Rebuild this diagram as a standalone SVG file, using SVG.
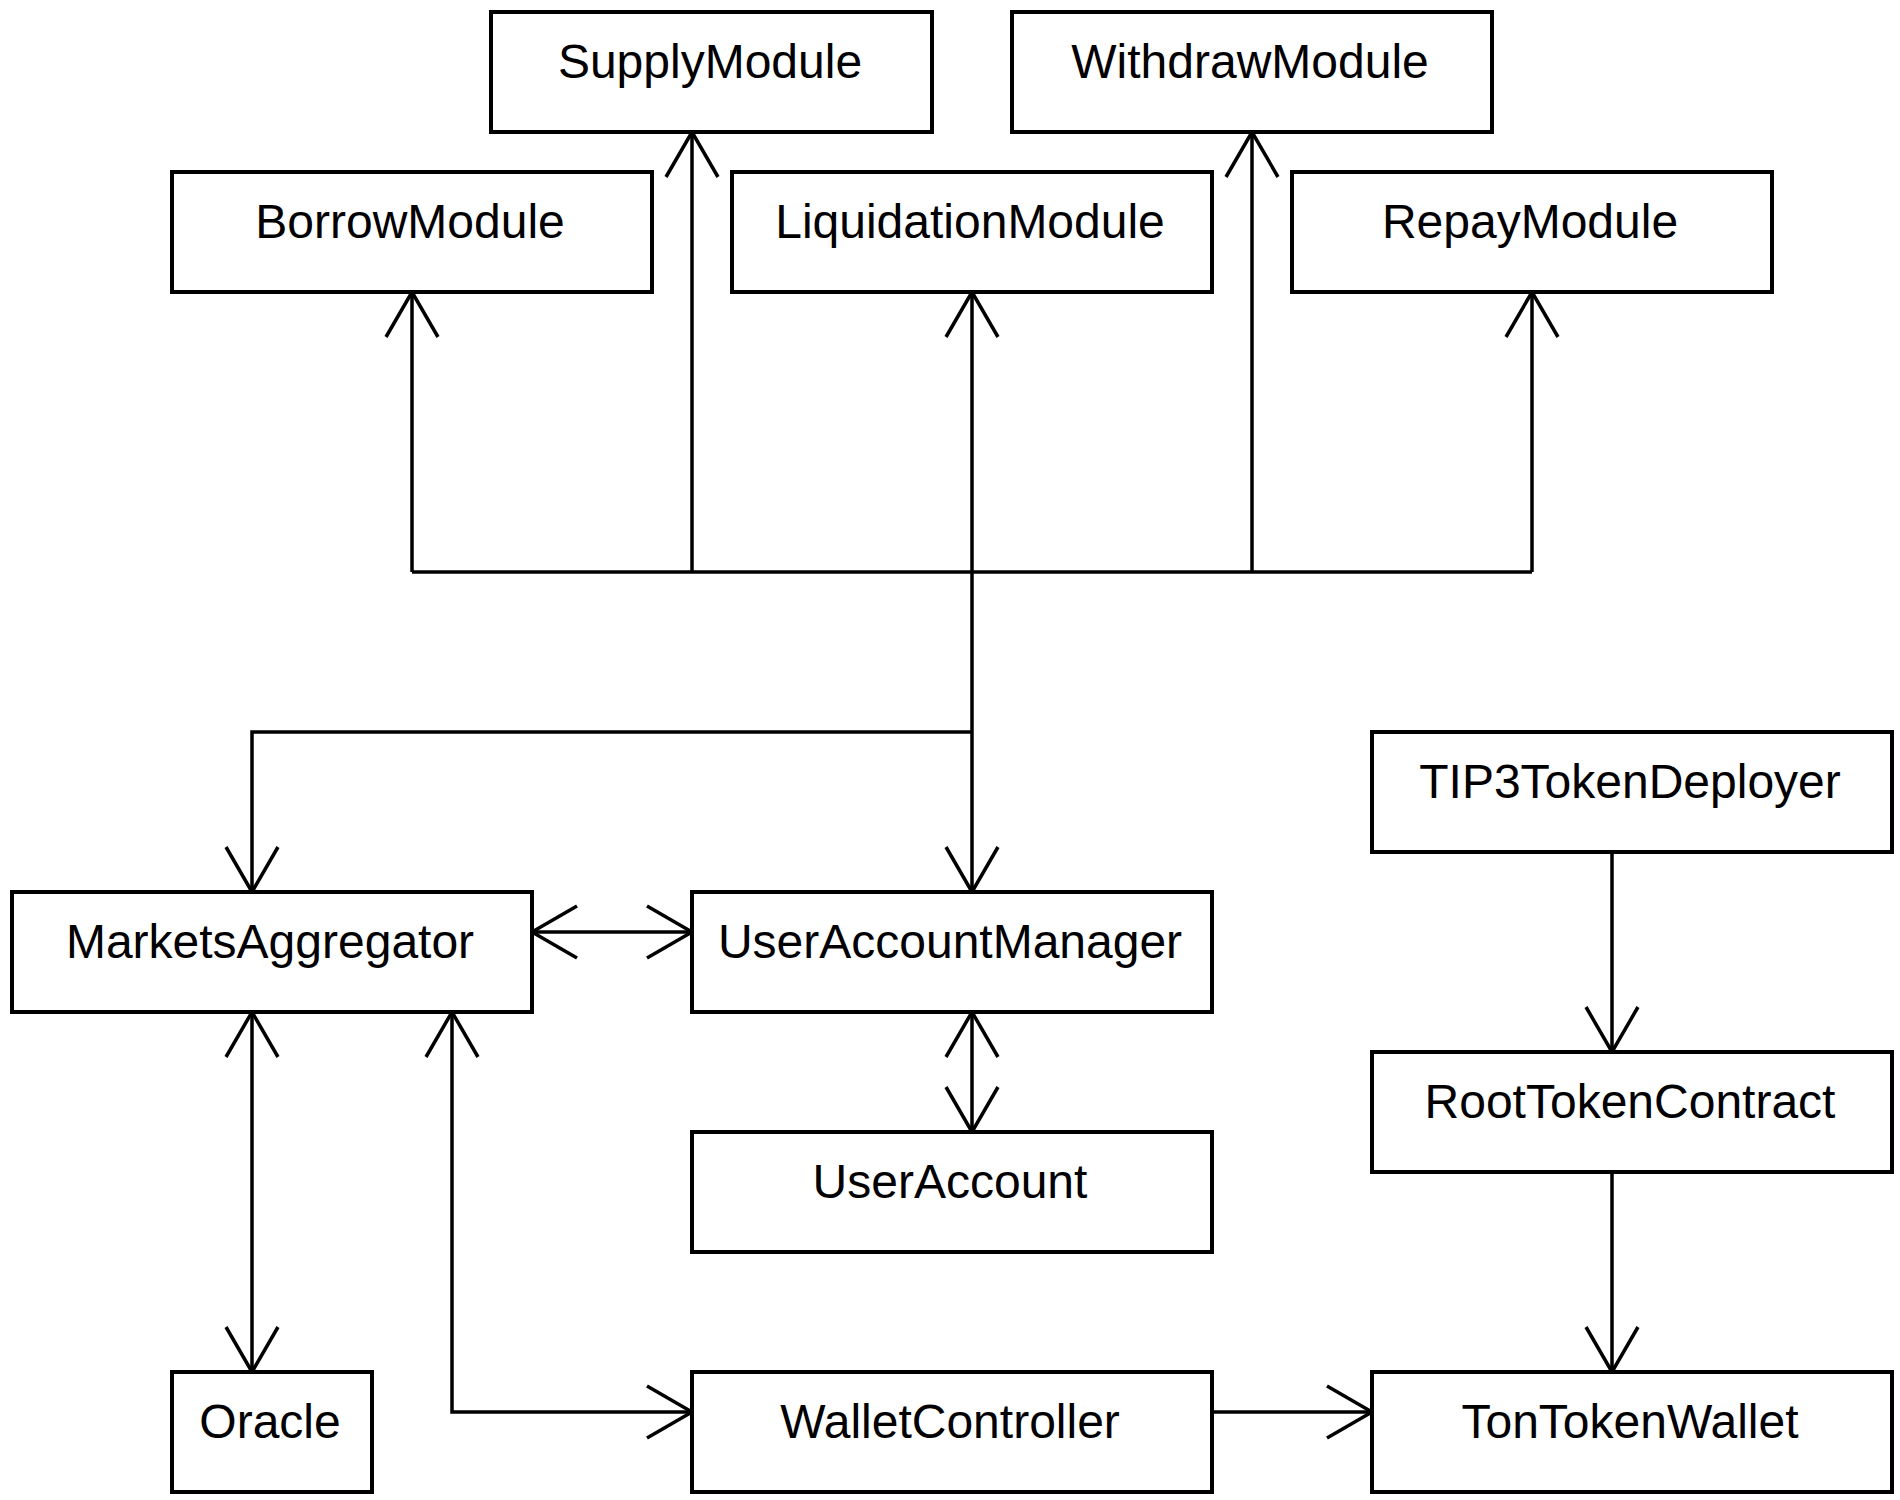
<svg xmlns="http://www.w3.org/2000/svg" width="1900" height="1500" viewBox="0 0 1900 1500">
<style>
.box{fill:#fff;stroke:#000;stroke-width:4}
.lbl{font-family:"Liberation Sans",Arial,sans-serif;font-size:48px;fill:#000;text-anchor:middle}
.con{fill:none;stroke:#000;stroke-width:3.5}
.a1{marker-end:url(#arr)}
.a2{marker-start:url(#arr);marker-end:url(#arr)}
</style>
<defs>
<marker id="arr" viewBox="0 0 50 56" refX="47" refY="28" markerWidth="50" markerHeight="56" markerUnits="userSpaceOnUse" orient="auto-start-reverse">
<path d="M2,2 L47,28 L2,54" fill="none" stroke="#000" stroke-width="3.5"/>
</marker>
</defs>
<rect width="1900" height="1500" fill="#fff"/>
<g id="connectors">
<path class="con" d="M412,572 H1532"/>
<path class="con a1" d="M412,572 V292"/>
<path class="con a1" d="M692,572 V132"/>
<path class="con a1" d="M972,572 V292"/>
<path class="con a1" d="M1252,572 V132"/>
<path class="con a1" d="M1532,572 V292"/>
<path class="con a1" d="M972,572 V892"/>
<path class="con a1" d="M972,732 H252 V892"/>
<path class="con a2" d="M532,932 H692"/>
<path class="con a2" d="M972,1012 V1132"/>
<path class="con a2" d="M252,1012 V1372"/>
<path class="con a2" d="M452,1012 V1412 H692"/>
<path class="con a1" d="M1612,852 V1052"/>
<path class="con a1" d="M1612,1172 V1372"/>
<path class="con a1" d="M1212,1412 H1372"/>
</g>
<g id="SupplyModule"><rect class="box" x="491" y="12" width="441" height="120"/><text class="lbl" x="710" y="78">SupplyModule</text></g>
<g id="WithdrawModule"><rect class="box" x="1012" y="12" width="480" height="120"/><text class="lbl" x="1250" y="78">WithdrawModule</text></g>
<g id="BorrowModule"><rect class="box" x="172" y="172" width="480" height="120"/><text class="lbl" x="410" y="238">BorrowModule</text></g>
<g id="LiquidationModule"><rect class="box" x="732" y="172" width="480" height="120"/><text class="lbl" x="970" y="238">LiquidationModule</text></g>
<g id="RepayModule"><rect class="box" x="1292" y="172" width="480" height="120"/><text class="lbl" x="1530" y="238">RepayModule</text></g>
<g id="TIP3TokenDeployer"><rect class="box" x="1372" y="732" width="520" height="120"/><text class="lbl" x="1630" y="798">TIP3TokenDeployer</text></g>
<g id="MarketsAggregator"><rect class="box" x="12" y="892" width="520" height="120"/><text class="lbl" x="270" y="958">MarketsAggregator</text></g>
<g id="UserAccountManager"><rect class="box" x="692" y="892" width="520" height="120"/><text class="lbl" x="950" y="958">UserAccountManager</text></g>
<g id="RootTokenContract"><rect class="box" x="1372" y="1052" width="520" height="120"/><text class="lbl" x="1630" y="1118">RootTokenContract</text></g>
<g id="UserAccount"><rect class="box" x="692" y="1132" width="520" height="120"/><text class="lbl" x="950" y="1198">UserAccount</text></g>
<g id="Oracle"><rect class="box" x="172" y="1372" width="200" height="120"/><text class="lbl" x="270" y="1438">Oracle</text></g>
<g id="WalletController"><rect class="box" x="692" y="1372" width="520" height="120"/><text class="lbl" x="950" y="1438">WalletController</text></g>
<g id="TonTokenWallet"><rect class="box" x="1372" y="1372" width="520" height="120"/><text class="lbl" x="1630" y="1438">TonTokenWallet</text></g>
</svg>
